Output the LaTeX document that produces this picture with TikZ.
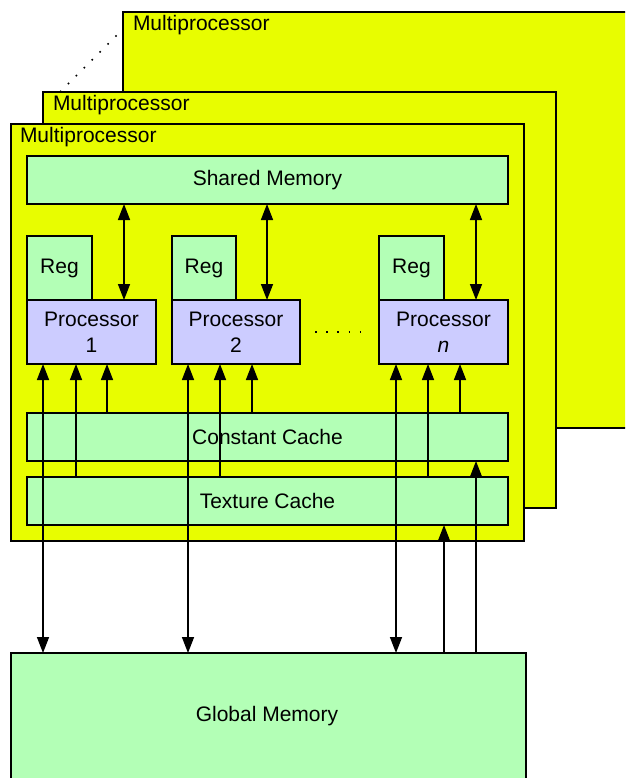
\documentclass[tikz,border=0pt]{standalone}
\usepackage{fontspec}
\setmainfont{Liberation Sans}
\usetikzlibrary{arrows.meta}
\definecolor{mpyellow}{RGB}{232,253,0}
\definecolor{memgreen}{RGB}{179,255,182}
\definecolor{proclav}{RGB}{204,204,255}
\begin{document}
\begin{tikzpicture}[x=1pt,y=-1pt,
  every node/.style={inner sep=0pt, outer sep=0pt},
  box/.style={draw=black, line width=1.5pt, rectangle, anchor=north west,
    font=\fontsize{21}{26}\selectfont},
  mp/.style={box, fill=mpyellow},
  mem/.style={box, fill=memgreen},
  proc/.style={box, fill=proclav, align=center},
  lbl/.style={anchor=base west, font=\fontsize{21}{24}\selectfont},
  conn/.style={line width=1.5pt, -{Triangle[length=16pt,width=12pt]}},
  bconn/.style={line width=1.5pt, {Triangle[length=16pt,width=12pt]}-{Triangle[length=16pt,width=12pt]}},
  dotline/.style={line width=1.6pt, dash pattern=on 1.6pt off 9.6pt},
]
\useasboundingbox (0,0) rectangle (625,778);
\clip (0,0) rectangle (625,778);

% multiprocessors
\node[mp, minimum width=530, minimum height=416] (mp3) at (123,12) {};
\node[lbl] (l3) at (133,31) {Multiprocessor};
\node[mp, minimum width=513, minimum height=416] (mp2) at (43,92) {};
\node[lbl] (l2) at (53,111) {Multiprocessor};
\node[mp, minimum width=513, minimum height=417] (mp1) at (11,124) {};
\node[lbl] (l1) at (20,143) {Multiprocessor};

\coordinate (d1) at (60,92);
\coordinate (d2) at (123,29);
\draw[dotline] (d1) -- (d2);

% memories
\node[mem, minimum width=481, minimum height=48] (sm) at (27,156) {\raisebox{-1.5pt}{Shared Memory}};
\node[mem, minimum width=65, minimum height=64] (r1) at (27,236) {\raisebox{-2.5pt}{Reg}};
\node[mem, minimum width=64, minimum height=64] (r2) at (172,236) {\raisebox{-2.5pt}{Reg}};
\node[mem, minimum width=65, minimum height=64] (rn) at (379,236) {\raisebox{-2.5pt}{Reg}};
\node[proc, minimum width=129, minimum height=64] (p1) at (27,300) {Processor\\1};
\node[proc, minimum width=128, minimum height=64] (p2) at (172,300) {Processor\\2};
\node[proc, minimum width=129, minimum height=64] (pn) at (379,300) {Processor\\\textit{n}};
\node[mem, minimum width=481, minimum height=48] (cc) at (27,413) {Constant Cache};
\node[mem, minimum width=481, minimum height=48] (tc) at (27,477) {Texture Cache};
\node[mem, minimum width=515, minimum height=200] (gm) at (11,653) {};
\node[font=\fontsize{21}{24}\selectfont] (gml) at (267,716) {Global Memory};

\draw[dotline, shorten <=15pt, shorten >=17pt] (p2.east) -- (pn.west);

% x positions
\coordinate (s1) at (124,0);
\coordinate (s2) at (267,0);
\coordinate (s3) at (476,0);
\coordinate (a1) at (43,0);
\coordinate (b1) at (76,0);
\coordinate (c1) at (107,0);
\coordinate (a2) at (188,0);
\coordinate (b2) at (220,0);
\coordinate (c2) at (252,0);
\coordinate (an) at (396,0);
\coordinate (bn) at (428,0);
\coordinate (cn) at (460,0);
\coordinate (g1) at (444,0);
\coordinate (g2) at (476,0);

% shared memory <-> processors
\draw[bconn] (sm.south -| s1) -- (p1.north -| s1);
\draw[bconn] (sm.south -| s2) -- (p2.north -| s2);
\draw[bconn] (sm.south -| s3) -- (pn.north -| s3);

% processors <-> global memory
\draw[bconn] (p1.south -| a1) -- (gm.north -| a1);
\draw[bconn] (p2.south -| a2) -- (gm.north -| a2);
\draw[bconn] (pn.south -| an) -- (gm.north -| an);

% texture cache -> processors
\draw[conn] (tc.north -| b1) -- (p1.south -| b1);
\draw[conn] (tc.north -| b2) -- (p2.south -| b2);
\draw[conn] (tc.north -| bn) -- (pn.south -| bn);

% constant cache -> processors
\draw[conn] (cc.north -| c1) -- (p1.south -| c1);
\draw[conn] (cc.north -| c2) -- (p2.south -| c2);
\draw[conn] (cc.north -| cn) -- (pn.south -| cn);

% global memory -> caches
\draw[conn] (gm.north -| g1) -- (tc.south -| g1);
\draw[conn] (gm.north -| g2) -- (cc.south -| g2);
\end{tikzpicture}
\end{document}
